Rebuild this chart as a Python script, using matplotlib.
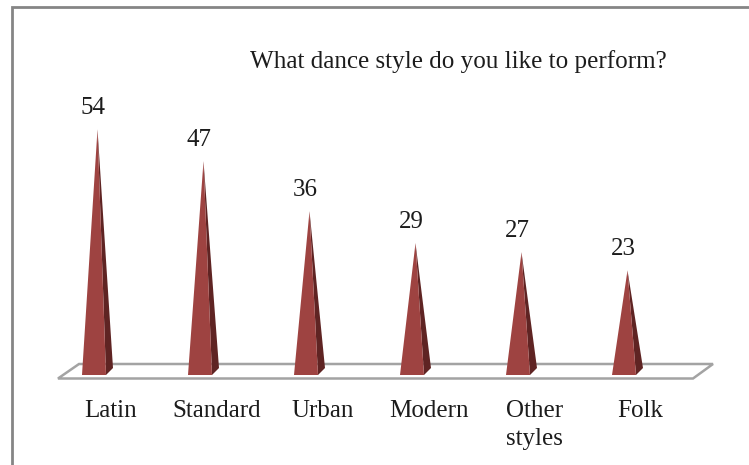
import matplotlib.pyplot as plt
from matplotlib.patches import Polygon

categories = ["Latin", "Standard", "Urban", "Modern", "Other\nstyles", "Folk"]
values = [54, 47, 36, 29, 27, 23]
title = "What dance style do you like to perform?"

W, H = 749, 465
X0, DX = 97.5, 106.0     # pixel x of first spike, spacing
Y0, PER_UNIT = 375.0, 4.55   # pixel y of value 0, pixels per unit

plt.rcParams["font.family"] = ["Liberation Serif"]

fig = plt.figure(figsize=(W / 100, H / 100), dpi=100)
ax = fig.add_axes([0, 0, 1, 1])
ax.set_xlim(-X0 / DX, (W - X0) / DX)
ax.set_ylim((Y0 - H) / PER_UNIT, Y0 / PER_UNIT)
ax.axis("off")


def px(x, y):
    """Pixel position in the picture to data coordinates."""
    return (x - X0) / DX, (Y0 - y) / PER_UNIT


# outer frame, only top and left show
ax.plot(*zip(px(11.5, H), px(11.5, 7.5), px(W, 7.5)), color="#858585", lw=2,
        solid_joinstyle="miter", clip_on=False)

# floor of the 3d chart
floor = [px(58, 378.5), px(693, 378.5), px(713, 364), px(79, 364)]
ax.add_patch(Polygon(floor, closed=True, fill=False, ec="#a3a3a3", lw=1.8))

for i, v in enumerate(values):
    left = (-15.5 / DX) + i
    right = (8.5 / DX) + i
    back = (15.5 / DX) + i
    # side face, then front face
    ax.add_patch(Polygon([(right, 0), (back, 7 / PER_UNIT), (i, v)],
                         closed=True, fc="#5f2423", ec="none"))
    ax.add_patch(Polygon([(left, 0), (right, 0), (i, v)],
                         closed=True, fc="#9e4341", ec="none"))
    ax.text(i - 4.5 / DX, v + 2.2, str(v), ha="center", va="bottom",
            fontsize=18, color="#1c1c1c")

for i, c in enumerate(categories):
    ax.text(i + 13 / DX, -5.5, c, ha="center", va="top",
            fontsize=18, color="#1c1c1c", linespacing=1.36)

ax.text(*px(458, 62), title, ha="center", va="center", fontsize=18.1,
        color="#1c1c1c")

fig.savefig("out.png", dpi=100)
